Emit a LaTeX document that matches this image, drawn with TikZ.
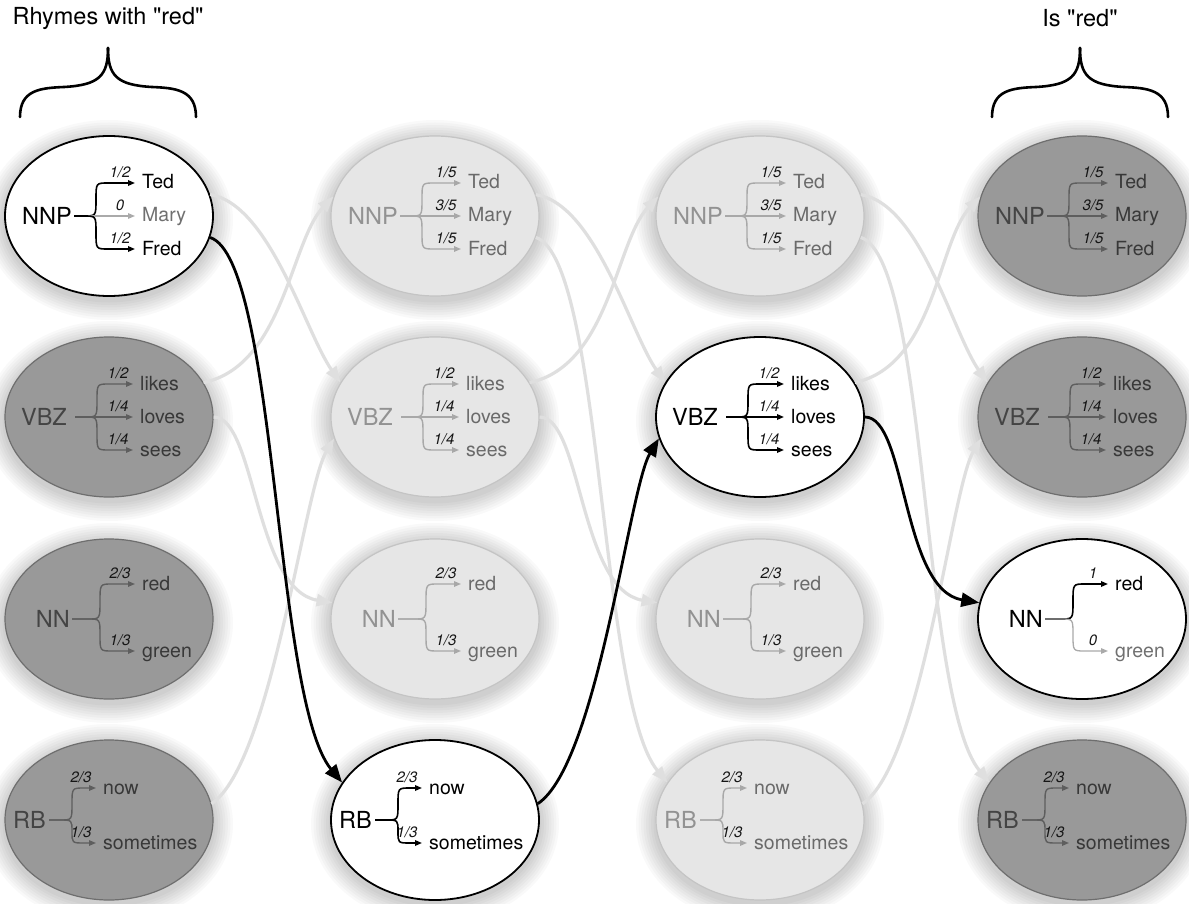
\documentclass[tikz,border=0pt]{standalone}
\usepackage{fontspec}
\newfontfamily\hv{TeX Gyre Heros}
\usetikzlibrary{shapes.geometric,arrows.meta}
\definecolor{dfill}{HTML}{999999}
\definecolor{dline}{HTML}{6E6E6E}
\definecolor{dlab}{HTML}{444444}
\definecolor{dwd}{HTML}{383838}
\definecolor{dbr}{HTML}{5E5E5E}
\definecolor{lfill}{HTML}{E6E6E6}
\definecolor{lline}{HTML}{C4C4C4}
\definecolor{llab}{HTML}{929292}
\definecolor{lwd}{HTML}{6A6A6A}
\definecolor{lbr}{HTML}{A8A8A8}
\definecolor{zbr}{HTML}{AAAAAA}
\definecolor{zwd}{HTML}{707070}
\definecolor{gcol}{HTML}{DFDFDF}
\definecolor{prc}{HTML}{151515}

\newcommand{\tbranch}[7]{%
  \begin{scope}[#5]
  \ifdim #4pt=0pt
    \draw[xbr] (#1,0) -- (#3,0);
  \else
    \draw[xbr] (#1,0) -- (#2-12,0) .. controls (#2,0) .. (#2,#4/2) .. controls (#2,#4) .. (#2+12,#4) -- (#3,#4);
  \fi
  \node[xpr] at (#3-15,#4-11) {#6};
  \node[xwd,anchor=base west] at (#3+7,#4+6) {#7};
  \end{scope}}

\newcommand{\NNPin}[6]{%
  \node[xlab,anchor=east] at (-37,0) {NNP};
  \tbranch{-35}{-13}{26}{-33}{#4}{#1}{Ted}
  \tbranch{-35}{-13}{26}{0}{#5}{#2}{Mary}
  \tbranch{-35}{-13}{26}{33}{#6}{#3}{Fred}}
\newcommand{\VBZin}{%
  \node[xlab,anchor=east] at (-42,0) {VBZ};
  \tbranch{-34}{-12}{24}{-33}{}{1/2}{likes}
  \tbranch{-34}{-12}{24}{0}{}{1/4}{loves}
  \tbranch{-34}{-12}{24}{33}{}{1/4}{sees}}
\newcommand{\NNin}[4]{%
  \node[xlab,anchor=east] at (-39,0) {NN};
  \tbranch{-37}{-9}{26}{-35}{#3}{#1}{red}
  \tbranch{-37}{-9}{26}{32}{#4}{#2}{green}}
\newcommand{\RBin}{%
  \node[xlab,anchor=east] at (-63,0) {RB};
  \tbranch{-60}{-37}{-13}{-32}{}{2/3}{now}
  \tbranch{-60}{-37}{-13}{23}{}{1/3}{sometimes}}
\newcommand{\shad}[2]{%
  \foreach \k in {1,...,8}{\fill[black,opacity=0.022] (#1,#2+4) ellipse [x radius={(104+2.5*\k)*1pt}, y radius={(80+2.5*\k)*1pt}];}}

\begin{document}
\begin{tikzpicture}[x=1pt,y=-1pt,
  ellbase/.style={ellipse, minimum width=208pt, minimum height=160pt, inner sep=0pt},
  wn/.style={ellbase, fill=white, draw=black, line width=1.8pt},
  dn/.style={ellbase, fill=dfill, draw=dline, line width=1.2pt},
  ln/.style={ellbase, fill=lfill, draw=lline, line width=1.2pt},
  xpr/.style={font=\hv\itshape\fontsize{15}{15}\selectfont, text=prc, inner sep=0pt},
  schW/.style={
    xlab/.style={font=\hv\fontsize{23.5}{23.5}\selectfont, inner sep=0pt, text=black},
    xwd/.style={font=\hv\fontsize{19.5}{19.5}\selectfont, inner sep=0pt, text=black},
    xbr/.style={draw=black, line width=1.6pt, -{Triangle[length=7pt,width=5.5pt]}}},
  schD/.style={
    xlab/.style={font=\hv\fontsize{23.5}{23.5}\selectfont, inner sep=0pt, text=dlab},
    xwd/.style={font=\hv\fontsize{19.5}{19.5}\selectfont, inner sep=0pt, text=dwd},
    xbr/.style={draw=dbr, line width=1.4pt, -{Triangle[length=7pt,width=5.5pt]}}},
  schL/.style={
    xlab/.style={font=\hv\fontsize{23.5}{23.5}\selectfont, inner sep=0pt, text=llab},
    xwd/.style={font=\hv\fontsize{19.5}{19.5}\selectfont, inner sep=0pt, text=lwd},
    xbr/.style={draw=lbr, line width=1.4pt, -{Triangle[length=7pt,width=5.5pt]}}},
  zero/.style={
    xwd/.style={font=\hv\fontsize{19.5}{19.5}\selectfont, inner sep=0pt, text=zwd},
    xbr/.style={draw=zbr, line width=1.3pt, -{Triangle[length=7pt,width=5.5pt]}}},
  gcon/.style={draw=gcol, line width=3.2pt, -{Triangle[length=16pt,width=12pt]}},
  bcon/.style={draw=black, line width=2.8pt, -{Triangle[length=18pt,width=14pt]}},
  bracestyle/.style={draw=black, line width=2.6pt, line cap=round},
  titlestyle/.style={font=\hv\fontsize{23.5}{23.5}\selectfont, inner sep=0pt}]
\fill[white] (0,0) rectangle (1189,904);
\useasboundingbox (0,0) rectangle (1189,904);

% titles and braces
\node[titlestyle] (t1) at (108,18) {Rhymes with "red"};
\node[titlestyle] (t2) at (1080,18) {Is "red"};
\draw[bracestyle] (20,117) .. controls (20,90) and (40,88) .. (64,87) .. controls (100,85) and (108,75) .. (108,48);
\draw[bracestyle] (196,117) .. controls (196,90) and (176,88) .. (152,87) .. controls (116,85) and (108,75) .. (108,48);
\draw[bracestyle] (992,117) .. controls (992,90) and (1012,88) .. (1036,87) .. controls (1072,85) and (1080,75) .. (1080,48);
\draw[bracestyle] (1168,117) .. controls (1168,90) and (1148,88) .. (1124,87) .. controls (1088,85) and (1080,75) .. (1080,48);

% shadows
\foreach \cx in {109,435,760,1082}{\foreach \cy in {216,417,619,820}{\shad{\cx}{\cy}}}

% ellipses
\node[wn] (nnpA) at (109,216) {};
\node[dn] (vbzA) at (109,417) {};
\node[dn] (nnA) at (109,619) {};
\node[dn] (rbA) at (109,820) {};
\node[ln] (nnpB) at (435,216) {};
\node[ln] (vbzB) at (435,417) {};
\node[ln] (nnB) at (435,619) {};
\node[wn] (rbB) at (435,820) {};
\node[ln] (nnpC) at (760,216) {};
\node[wn] (vbzC) at (760,417) {};
\node[ln] (nnC) at (760,619) {};
\node[ln] (rbC) at (760,820) {};
\node[dn] (nnpD) at (1082,216) {};
\node[dn] (vbzD) at (1082,417) {};
\node[wn] (nnD) at (1082,619) {};
\node[dn] (rbD) at (1082,820) {};

% contents
\begin{scope}[shift={(109,216)},schW]\NNPin{1/2}{0}{1/2}{}{zero}{}\end{scope}
\begin{scope}[shift={(109,417)},schD]\VBZin\end{scope}
\begin{scope}[shift={(109,619)},schD]\NNin{2/3}{1/3}{}{}\end{scope}
\begin{scope}[shift={(109,820)},schD]\RBin\end{scope}
\begin{scope}[shift={(435,216)},schL]\NNPin{1/5}{3/5}{1/5}{}{}{}\end{scope}
\begin{scope}[shift={(435,417)},schL]\VBZin\end{scope}
\begin{scope}[shift={(435,619)},schL]\NNin{2/3}{1/3}{}{}\end{scope}
\begin{scope}[shift={(435,820)},schW]\RBin\end{scope}
\begin{scope}[shift={(760,216)},schL]\NNPin{1/5}{3/5}{1/5}{}{}{}\end{scope}
\begin{scope}[shift={(760,417)},schW]\VBZin\end{scope}
\begin{scope}[shift={(760,619)},schL]\NNin{2/3}{1/3}{}{}\end{scope}
\begin{scope}[shift={(760,820)},schL]\RBin\end{scope}
\begin{scope}[shift={(1082,216)},schD]\NNPin{1/5}{3/5}{1/5}{}{}{}\end{scope}
\begin{scope}[shift={(1082,417)},schD]\VBZin\end{scope}
\begin{scope}[shift={(1082,619)},schW]\NNin{1}{0}{}{zero}\end{scope}
\begin{scope}[shift={(1082,820)},schD]\RBin\end{scope}

% gray connectors
\draw[gcon] (nnpA.12) .. controls +(60,10) and +(-35,-50) .. (vbzB.160);
\draw[gcon] (vbzA.20) .. controls +(80,-17) and +(-43,45) .. (nnpB.169);
\draw[gcon] (vbzA.0) .. controls +(42,0) and +(-78,-13) .. (nnB.171);
\draw[gcon] (rbA.9) .. controls +(60,-40) and +(-30,50) .. (vbzB.192);

\draw[gcon] (nnpB.12) .. controls +(60,10) and +(-35,-50) .. (vbzC.160);
\draw[gcon] (vbzB.20) .. controls +(80,-17) and +(-43,45) .. (nnpC.169);
\draw[gcon] (vbzB.0) .. controls +(42,0) and +(-78,-13) .. (nnC.171);
\draw[gcon] (nnpB.-12) .. controls +(67,22) and +(-68,-82) .. (rbC.158);

\draw[gcon] (nnpC.12) .. controls +(60,10) and +(-35,-50) .. (vbzD.160);
\draw[gcon] (vbzC.20) .. controls +(80,-17) and +(-43,45) .. (nnpD.169);
\draw[gcon] (rbC.9) .. controls +(60,-40) and +(-30,50) .. (vbzD.192);
\draw[gcon] (nnpC.-12) .. controls +(67,22) and +(-68,-82) .. (rbD.158);

% black connectors
\draw[bcon] (nnpA.-12) .. controls +(67,22) and +(-68,-82) .. (rbB.158);
\draw[bcon] (rbB.9) .. controls +(60,-40) and +(-30,50) .. (vbzC.192);
\draw[bcon] (vbzC.0) .. controls +(42,0) and +(-78,-13) .. (nnD.171);
\end{tikzpicture}
\end{document}
